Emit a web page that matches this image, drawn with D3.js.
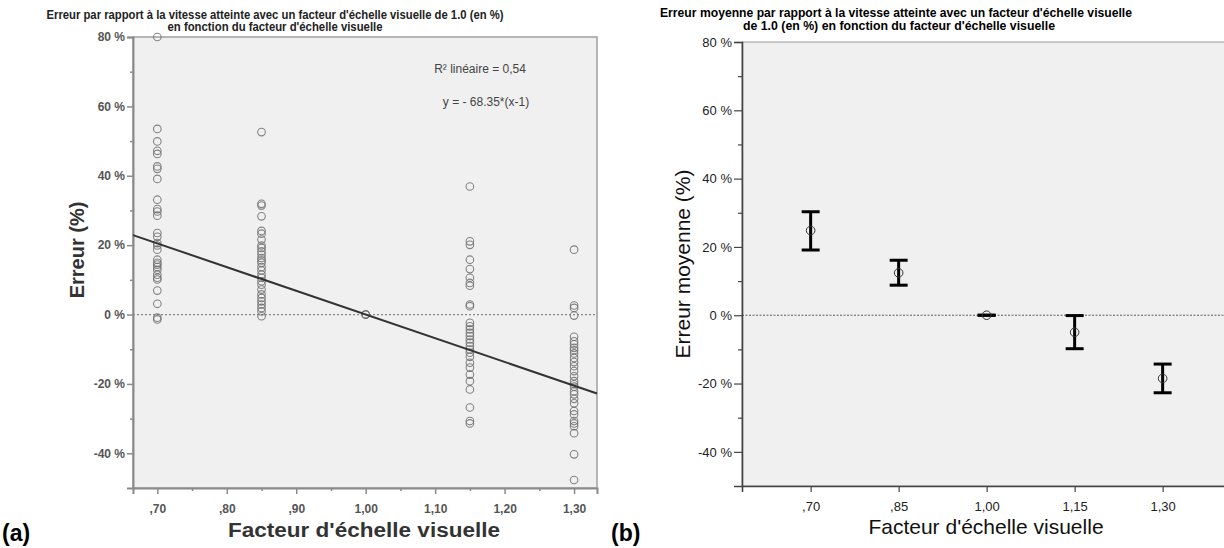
<!DOCTYPE html>
<html><head><meta charset="utf-8">
<script src="https://cdn.jsdelivr.net/npm/d3@7"></script>
<style>
html,body{margin:0;padding:0;background:#fff;}
svg{display:block;font-family:"Liberation Sans",Arial,sans-serif;}
</style></head>
<body>
<svg id="c" width="1224" height="548"></svg>
<script>
// ---- Data (a) : individual errors per visual scale factor ----
const factorsA = [0.70, 0.85, 1.00, 1.15, 1.30];
const err070 = [80, 53.5, 49.9, 47.2, 46.3, 42.7, 42.0, 39.1, 33.1, 30.4, 29.7, 28.5, 23.5, 22.4, 20.6, 19.9, 18.7, 15.8, 14.9, 14.4, 13.7, 12.9, 11.5, 10.6, 10.1, 6.9, 3.1, -0.9, -1.4];
const err085 = [52.6, 31.9, 31.4, 28.3, 24.1, 23.3, 21.6, 19.9, 19.2, 18.2, 17.3, 16.3, 15.6, 14.9, 13.7, 12.7, 11.5, 10.6, 9.6, 8.6, 7.2, 5.8, 4.8, 3.8, 2.9, 1.9, 0.9, -0.5];
const err100 = [0, 0, 0];
const err115 = [36.9, 21.1, 20.1, 15.8, 13.1, 10.6, 9.1, 8.3, 2.9, 2.4, -2.4, -3.4, -4.3, -5.3, -6.2, -7.2, -8.1, -9.1, -10.1, -11.0, -12.2, -13.9, -15.3, -17.3, -19.2, -21.6, -26.8, -30.7, -31.4];
const err130 = [18.7, 2.6, 1.9, -0.3, -6.4, -7.7, -8.6, -9.6, -10.3, -11.2, -12.5, -13.7, -14.9, -16.3, -17.8, -19.2, -20.1, -20.8, -22.1, -23.0, -24.3, -25.6, -27.8, -28.8, -30.7, -31.4, -32.2, -34.2, -40.3, -47.7];
const fitSlope = -68.35;   // y = -68.35*(x-1)
const fitR2 = "0,54";
const xTicksA = [0.70, 0.80, 0.90, 1.00, 1.10, 1.20, 1.30];
const xTickLabelsA = [",70", ",80", ",90", "1,00", "1,10", "1,20", "1,30"];
const yTicks = [80, 60, 40, 20, 0, -20, -40];
const yTickLabels = ["80 %", "60 %", "40 %", "20 %", "0 %", "-20 %", "-40 %"];

// ---- Data (b) : mean error with error bars ----
const factorsB = [0.70, 0.85, 1.00, 1.15, 1.30];
const factorLabelsB = [",70", ",85", "1,00", "1,15", "1,30"];
const meanB = [24.8, 12.4, 0, -5.0, -18.5];
const lowB = [19.1, 8.8, 0, -9.8, -22.7];
const highB = [30.3, 16.1, 0, -0.1, -14.3];

const titleA1 = "Erreur par rapport à la vitesse atteinte avec un facteur d'échelle visuelle de 1.0 (en %)";
const titleA2 = "en fonction du facteur d'échelle visuelle";
const titleB1 = "Erreur moyenne par rapport à la vitesse atteinte avec un facteur d'échelle visuelle";
const titleB2 = "de 1.0 (en %) en fonction du facteur d'échelle visuelle";

const svg = d3.select("#c");

// ================= Chart (a) =================
const A = {l:133, r:597, t:37, b:488};
const xA = d3.scaleLinear().domain([0.665, 1.333]).range([A.l, A.r]);
const yA = d3.scaleLinear().domain([-50, 80]).range([A.b, A.t]);
const gA = svg.append("g");
gA.append("rect").attr("x", A.l).attr("y", A.t).attr("width", A.r - A.l).attr("height", A.b - A.t)
  .attr("fill", "#f0f0f0").attr("stroke", "#a0a0a0").attr("stroke-width", 1.5);

// zero reference
gA.append("line").attr("x1", A.l).attr("x2", A.r).attr("y1", yA(0)).attr("y2", yA(0))
  .attr("stroke", "#888").attr("stroke-width", 1.2).attr("stroke-dasharray", "2,2");

// axes
const yAxisA = d3.axisLeft(yA).tickValues(yTicks).tickSize(6).tickFormat((d, i) => yTickLabels[i]);
const gyA = gA.append("g").attr("transform", `translate(${A.l},0)`).call(yAxisA);
const yMinorA = d3.axisLeft(yA).tickValues([70, 50, 30, 10, -10, -30]).tickSize(3).tickFormat("");
gA.append("g").attr("transform", `translate(${A.l},0)`).call(yMinorA).call(g => g.select(".domain").remove());
const xAxisA = d3.axisBottom(xA).tickValues(xTicksA).tickSize(6).tickFormat((d, i) => xTickLabelsA[i]);
const gxA = gA.append("g").attr("transform", `translate(0,${A.b})`).call(xAxisA);
const xMinorA = d3.axisBottom(xA).tickValues([0.75, 0.85, 0.95, 1.05, 1.15, 1.25]).tickSize(3).tickFormat("");
gA.append("g").attr("transform", `translate(0,${A.b})`).call(xMinorA).call(g => g.select(".domain").remove());
gA.selectAll(".domain").attr("stroke", "#8a8a8a").attr("stroke-width", 2);
gA.selectAll(".tick line").attr("stroke", "#8a8a8a").attr("stroke-width", 1.5);
gyA.selectAll(".tick text").attr("font-size", 12).attr("fill", "#555").attr("font-weight", "bold").attr("x", -8);
gxA.selectAll(".tick text").attr("font-size", 12).attr("fill", "#555").attr("font-weight", "bold").attr("dy", "1.3em");

// points
const colsA = [err070, err085, err100, err115, err130];
const ptsA = [];
colsA.forEach((arr, i) => arr.forEach(v => ptsA.push({x: factorsA[i], y: v})));
gA.append("g").selectAll("circle").data(ptsA).join("circle")
  .attr("cx", d => xA(d.x)).attr("cy", d => yA(d.y)).attr("r", 3.8)
  .attr("fill", "none").attr("stroke", "#707070").attr("stroke-width", 1.1).attr("stroke-opacity", 0.85);

// fit line
const fitX = xA.domain();
gA.append("line")
  .attr("x1", xA(fitX[0])).attr("y1", yA(fitSlope * (fitX[0] - 1)))
  .attr("x2", xA(fitX[1])).attr("y2", yA(fitSlope * (fitX[1] - 1)))
  .attr("stroke", "#333").attr("stroke-width", 2);

gA.append("text").attr("x", 480).attr("y", 73).attr("text-anchor", "middle")
  .attr("font-size", 12).attr("fill", "#444").text("R² linéaire = " + fitR2);
gA.append("text").attr("x", 486).attr("y", 106).attr("text-anchor", "middle")
  .attr("font-size", 12).attr("fill", "#444").text("y = - 68.35*(x-1)");

// titles
gA.append("text").attr("x", 275).attr("y", 19).attr("text-anchor", "middle")
  .attr("font-size", 12).attr("font-weight", "bold").attr("fill", "#222")
  .attr("textLength", 457).attr("lengthAdjust", "spacingAndGlyphs").text(titleA1);
gA.append("text").attr("x", 275).attr("y", 31).attr("text-anchor", "middle")
  .attr("font-size", 12).attr("font-weight", "bold").attr("fill", "#222")
  .attr("textLength", 215).attr("lengthAdjust", "spacingAndGlyphs").text(titleA2);
gA.append("text").attr("transform", "translate(84,250) rotate(-90)").attr("text-anchor", "middle")
  .attr("font-size", 20).attr("font-weight", "bold").attr("fill", "#333").text("Erreur (%)");
gA.append("text").attr("x", 364).attr("y", 537).attr("text-anchor", "middle")
  .attr("font-size", 20).attr("font-weight", "bold").attr("fill", "#333").attr("textLength", 272).attr("lengthAdjust", "spacingAndGlyphs")
  .text("Facteur d'échelle visuelle");
svg.append("text").attr("x", 2).attr("y", 541).attr("font-size", 23).attr("font-weight", "bold")
  .attr("fill", "#000").text("(a)");

// ================= Chart (b) =================
const B = {l:742, r:1230, t:42, b:486};
const xB = d3.scaleLinear().domain([0.583, 0.583 + (B.r - B.l) / 88 * 0.15]).range([B.l, B.r]);
const yB = d3.scaleLinear().domain([-50, 80]).range([B.b, B.t]);
const gB = svg.append("g");
gB.append("rect").attr("x", B.l).attr("y", B.t).attr("width", B.r - B.l).attr("height", B.b - B.t)
  .attr("fill", "#f0f0f0").attr("stroke", "#999").attr("stroke-width", 1);
gB.append("line").attr("x1", B.l).attr("x2", B.r).attr("y1", yB(0)).attr("y2", yB(0))
  .attr("stroke", "#333").attr("stroke-width", 0.8).attr("stroke-dasharray", "2,1.5");

const yAxisB = d3.axisLeft(yB).tickValues(yTicks).tickSize(8).tickFormat((d, i) => yTickLabels[i]);
const gyB = gB.append("g").attr("transform", `translate(${B.l},0)`).call(yAxisB);
const yMinorB = d3.axisLeft(yB).tickValues([70, 50, 30, 10, -10, -30]).tickSize(4).tickFormat("");
gB.append("g").attr("transform", `translate(${B.l},0)`).call(yMinorB).call(g => g.select(".domain").remove());
const xAxisB = d3.axisBottom(xB).tickValues(factorsB).tickSize(6).tickFormat((d, i) => factorLabelsB[i]);
const gxB = gB.append("g").attr("transform", `translate(0,${B.b})`).call(xAxisB);
gB.selectAll(".domain").attr("stroke", "#444").attr("stroke-width", 1.6);
gB.selectAll(".tick line").attr("stroke", "#444").attr("stroke-width", 1.2);
gyB.selectAll(".tick text").attr("font-size", 13).attr("fill", "#222").attr("x", -10);
gxB.selectAll(".tick text").attr("font-size", 13).attr("fill", "#222").attr("dy", "1.25em");

const barsB = factorsB.map((f, i) => ({x: f, m: meanB[i], lo: lowB[i], hi: highB[i]}));
const eb = gB.append("g").selectAll("g").data(barsB).join("g");
const capW = 9;
eb.append("line").attr("x1", d => xB(d.x)).attr("x2", d => xB(d.x))
  .attr("y1", d => yB(d.lo)).attr("y2", d => yB(d.hi)).attr("stroke", "#000").attr("stroke-width", 3);
eb.append("line").attr("x1", d => xB(d.x) - capW).attr("x2", d => xB(d.x) + capW)
  .attr("y1", d => yB(d.lo)).attr("y2", d => yB(d.lo)).attr("stroke", "#000").attr("stroke-width", 3);
eb.append("line").attr("x1", d => xB(d.x) - capW).attr("x2", d => xB(d.x) + capW)
  .attr("y1", d => yB(d.hi)).attr("y2", d => yB(d.hi)).attr("stroke", "#000").attr("stroke-width", 3);
eb.append("circle").attr("cx", d => xB(d.x)).attr("cy", d => yB(d.m)).attr("r", 4.3)
  .attr("fill", "none").attr("stroke", "#333").attr("stroke-width", 1);

gB.append("text").attr("x", 896).attr("y", 17).attr("text-anchor", "middle")
  .attr("font-size", 12).attr("font-weight", "bold").attr("fill", "#000")
  .attr("textLength", 472).attr("lengthAdjust", "spacingAndGlyphs").text(titleB1);
gB.append("text").attr("x", 899).attr("y", 30).attr("text-anchor", "middle")
  .attr("font-size", 12).attr("font-weight", "bold").attr("fill", "#000")
  .attr("textLength", 312).attr("lengthAdjust", "spacingAndGlyphs").text(titleB2);
gB.append("text").attr("transform", "translate(690,264) rotate(-90)").attr("text-anchor", "middle")
  .attr("font-size", 21).attr("fill", "#111").text("Erreur moyenne (%)");
gB.append("text").attr("x", 986).attr("y", 534).attr("text-anchor", "middle")
  .attr("font-size", 21).attr("fill", "#111").text("Facteur d'échelle visuelle");
svg.append("text").attr("x", 611).attr("y", 541).attr("font-size", 23).attr("font-weight", "bold")
  .attr("fill", "#000").text("(b)");
</script>
</body></html>
